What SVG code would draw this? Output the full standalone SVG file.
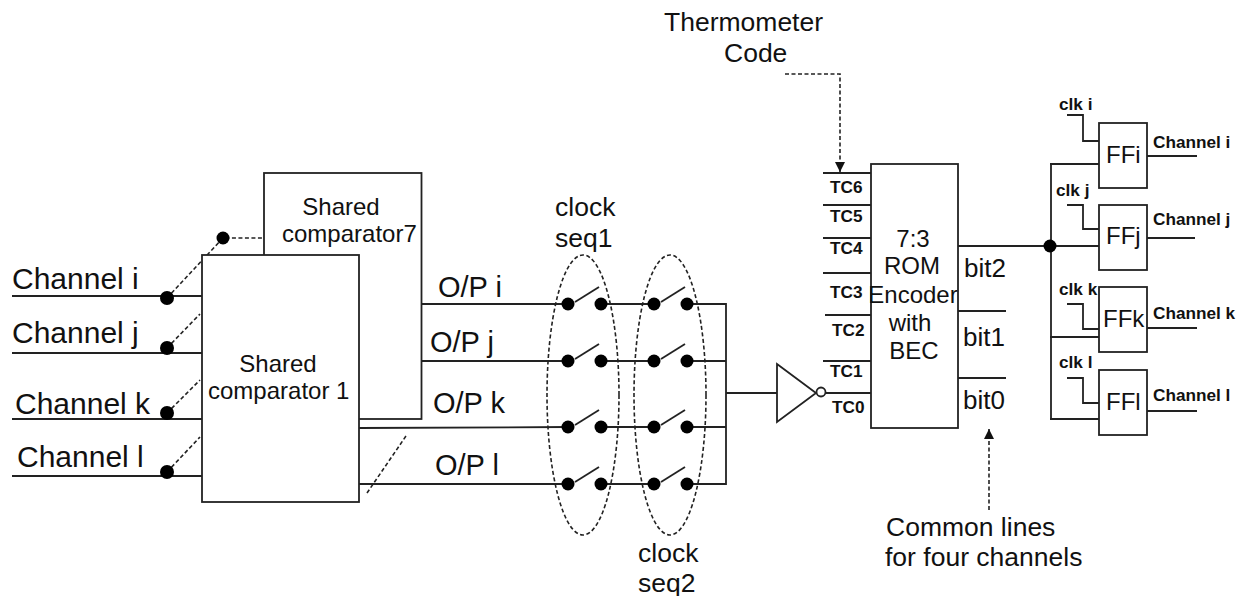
<svg xmlns="http://www.w3.org/2000/svg" width="1251" height="596" viewBox="0 0 1251 596">
<style>
text{font-family:"Liberation Sans",Arial,sans-serif;fill:#111}
.l{font-size:30px}.o{font-size:29px}.m{font-size:24px}.f{font-size:26px}.c{font-size:26.500px}.b{font-size:17.200px;font-weight:bold}
.mid{text-anchor:middle}
.w{fill:none;stroke:#222;stroke-width:1.8}
.box{fill:#fff;stroke:#222;stroke-width:1.8}
.d{fill:none;stroke:#222;stroke-width:1.6;stroke-dasharray:4 2.5}
.dot{fill:#000}
</style>
<defs>
<marker id="ah" markerUnits="userSpaceOnUse" markerWidth="12" markerHeight="11" refX="10" refY="5" orient="auto"><path d="M0 0L10 5L0 10z" fill="#111"/></marker>
<g id="sw"><circle class="dot" cx="0" cy="0" r="6.500"/><circle class="dot" cx="33" cy="0" r="6.500"/><path class="w" d="M7-2L31-17"/></g>
</defs>
<g id="connectors">
<path class="w" d="M12 296H202M12 353H202M12 419H202M12 476H202"/>
<path class="d" d="M167 298L223 238H264M167 348L200 314M167 413L200 380M167 472L200 437M367 493L406 436"/>
<path class="w" d="M359 304H568M601 304H654M688 304H726M359 361H568M601 361H654M688 361H726M359 428L568 427M601 427H654M688 427H726M359 484H568M601 484H654M688 484H726M726 303V485M726 393H778M826 393H871"/>
<path class="w" d="M823 173H871M823 205H871M823 238H871M823 273H871M825 315H871M823 361H871M958 246H1050M958 311H1006M958 378H1006"/>
<path class="d" d="M785 74H840V172" marker-end="url(#ah)"/>
<path class="d" d="M989 510V429" marker-end="url(#ah)"/>
<path class="w" d="M1051 164V419M1050 164H1099M1050 246H1099M1050 337H1099M1050 419H1099"/>
<path class="w" d="M1067 115H1083V141H1099M1067 205H1083V229H1099M1067 304H1083V329H1099M1067 378H1083V403H1099"/>
<path class="w" d="M1147 156H1197M1144 238H1195M1147 328H1197M1147 411H1197"/>
<circle class="dot" cx="1050" cy="246" r="6.500"/>
</g>
<g id="comparator7"><rect class="box" x="264" y="173" width="157.500" height="246"/><text class="m mid" x="341" y="215">Shared</text><text class="m" x="282" y="242">comparator7</text></g>
<g id="comparator1"><rect class="box" x="202" y="255" width="157" height="247"/><text class="m mid" x="278" y="372">Shared</text><text class="m" x="208" y="399">comparator 1</text></g>
<g id="inputs">
<text class="l" x="12" y="289">Channel i</text><text class="l" x="12" y="343">Channel j</text><text class="l" x="15" y="414">Channel k</text><text class="l" x="17" y="467">Channel l</text>
<circle class="dot" cx="167" cy="298" r="7"/><circle class="dot" cx="167" cy="348" r="7"/><circle class="dot" cx="167" cy="413" r="7"/><circle class="dot" cx="167" cy="472" r="7"/><circle class="dot" cx="223" cy="238" r="6.500"/>
</g>
<g id="outputs"><text class="o" x="438" y="297">O/P i</text><text class="o" x="430" y="352">O/P j</text><text class="o" x="433" y="413">O/P k</text><text class="o" x="435" y="475">O/P l</text></g>
<g id="seq1"><use href="#sw" x="568" y="304"/><use href="#sw" x="568" y="361"/><use href="#sw" x="568" y="427"/><use href="#sw" x="568" y="484"/><ellipse class="d" cx="583" cy="395" rx="36" ry="140"/><text class="c" x="555" y="216">clock</text><text class="c" x="555" y="247">seq1</text></g>
<g id="seq2"><use href="#sw" x="654" y="304"/><use href="#sw" x="654" y="361"/><use href="#sw" x="654" y="427"/><use href="#sw" x="654" y="484"/><ellipse class="d" cx="670" cy="395" rx="36" ry="140"/><text class="c" x="638" y="562">clock</text><text class="c" x="638" y="592">seq2</text></g>
<g id="inverter"><path class="box" d="M777 364L816 393L777 422Z"/><circle class="box" cx="821" cy="392" r="4.500"/></g>
<g id="encoder"><rect class="box" x="871" y="164" width="87" height="264"/>
<text class="m mid" x="913" y="247">7:3</text><text class="m mid" x="912" y="274">ROM</text><text class="m mid" x="913" y="303">Encoder</text><text class="m mid" x="910" y="331">with</text><text class="m mid" x="914" y="359">BEC</text>
<text class="b" x="830" y="193">TC6</text><text class="b" x="830" y="222">TC5</text><text class="b" x="830" y="254">TC4</text><text class="b" x="830" y="298">TC3</text><text class="b" x="832" y="336">TC2</text><text class="b" x="830" y="377">TC1</text><text class="b" x="832" y="413">TC0</text>
<text class="f" x="964" y="277">bit2</text><text class="f" x="963" y="346">bit1</text><text class="f" x="963" y="409">bit0</text></g>
<g id="thermo"><text class="c" x="664" y="31">Thermometer</text><text class="c" x="724" y="62">Code</text></g>
<g id="common"><text class="c" x="886" y="536">Common lines</text><text class="c" x="885" y="566">for four channels</text></g>
<g id="ffi"><rect class="box" x="1099" y="123" width="48" height="65"/><text class="m" x="1106" y="163">FFi</text><text class="b" x="1059" y="110">clk i</text><text class="b" x="1153" y="148">Channel i</text></g>
<g id="ffj"><rect class="box" x="1099" y="205" width="48" height="65"/><text class="m" x="1106" y="244">FFj</text><text class="b" x="1056" y="196">clk j</text><text class="b" x="1153" y="225">Channel j</text></g>
<g id="ffk"><rect class="box" x="1099" y="287" width="48" height="65"/><text class="m" x="1103" y="327">FFk</text><text class="b" x="1059" y="295">clk k</text><text class="b" x="1153" y="319">Channel k</text></g>
<g id="ffl"><rect class="box" x="1099" y="370" width="48" height="65"/><text class="m" x="1106" y="410">FFl</text><text class="b" x="1059" y="368">clk l</text><text class="b" x="1153" y="401">Channel l</text></g>
</svg>
